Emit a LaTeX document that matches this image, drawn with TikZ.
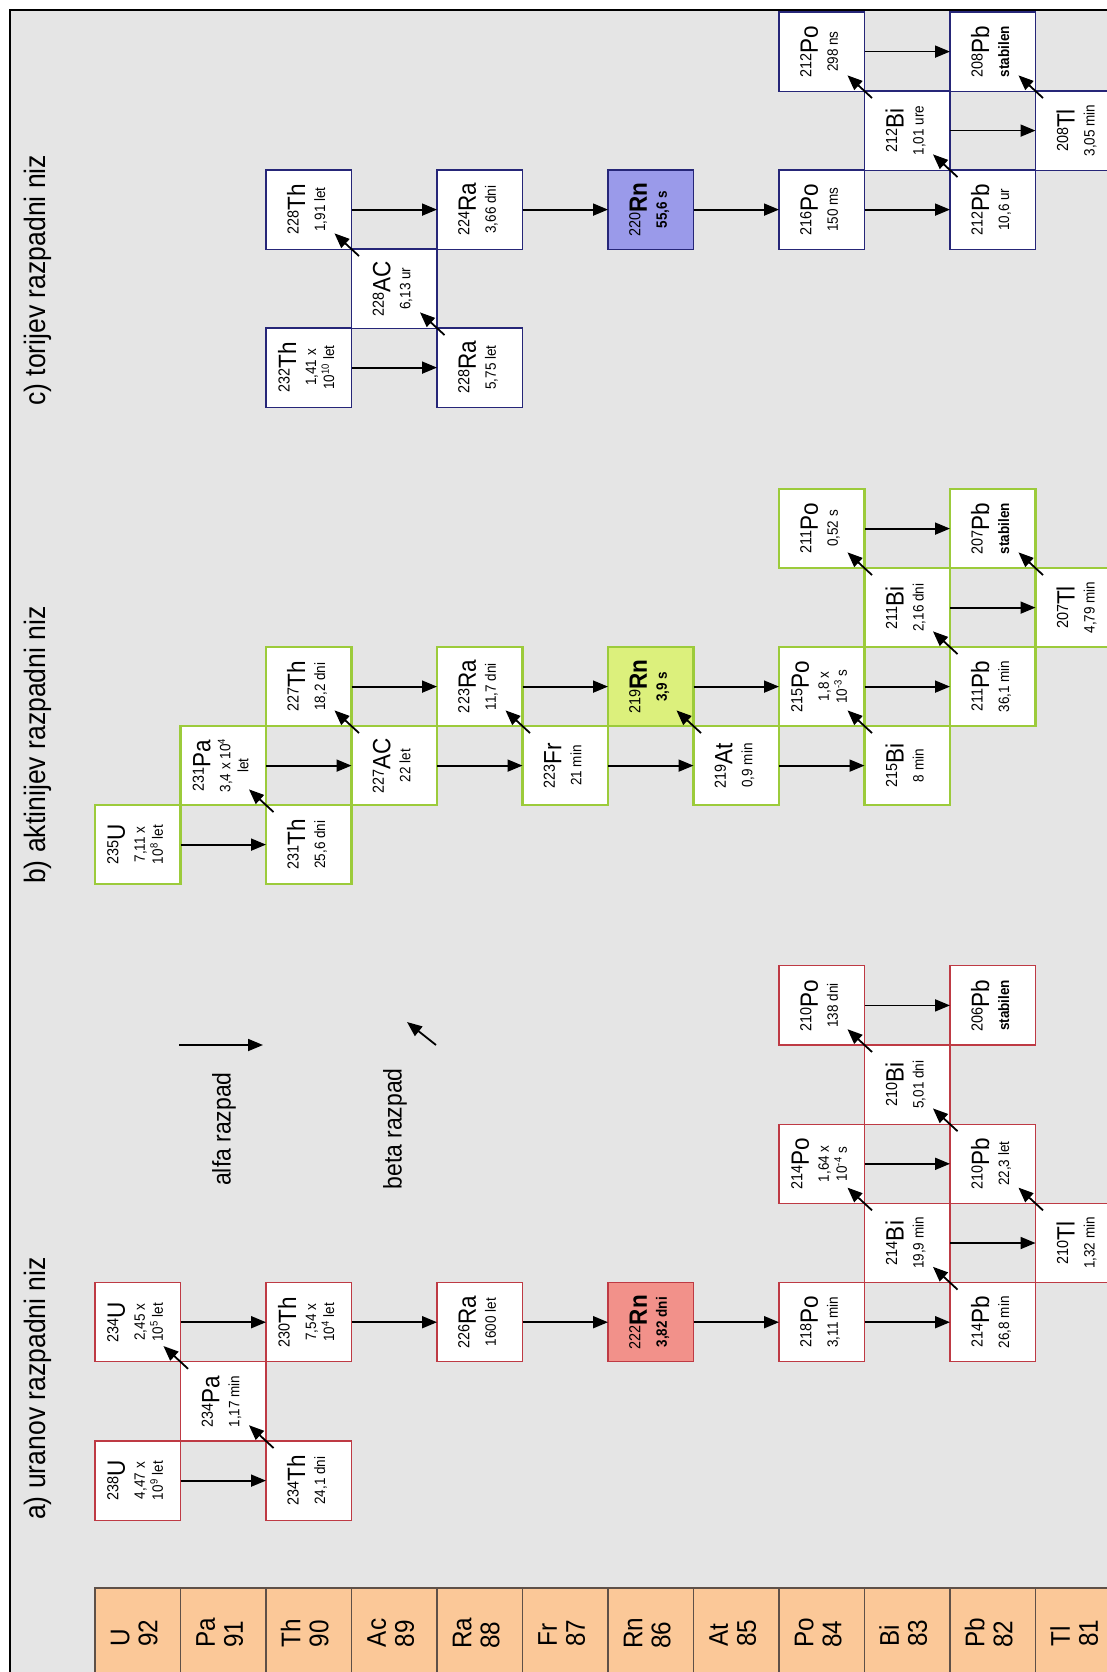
\documentclass[tikz,border=0pt]{standalone}
\usepackage{fontspec}
\setmainfont{Liberation Sans}[FakeStretch=0.9]
\usetikzlibrary{arrows.meta}
\definecolor{bgc}{HTML}{E5E5E5}
\definecolor{redc}{HTML}{BE3A44}
\definecolor{grnc}{HTML}{9CCB3B}
\definecolor{bluc}{HTML}{262678}
\definecolor{rnred}{HTML}{F2918A}
\definecolor{rngrn}{HTML}{DCF07C}
\definecolor{rnblu}{HTML}{9A9AEA}
\definecolor{orng}{HTML}{FBC898}
\definecolor{orngb}{HTML}{5E5048}
\newcommand{\Mass}[1]{\raisebox{6.4pt}{\fontsize{16}{16}\selectfont #1}}
\newcommand{\Sym}[1]{{\fontsize{25}{25}\selectfont #1}}
\newcommand{\Lab}[3]{\rotatebox{90}{\fontsize{15}{18}\selectfont\begin{tabular}{@{}c@{}}\Mass{#1}\Sym{#2}\\[2pt] #3\end{tabular}}}
\newcommand{\Nuc}[7]{\node[#1] (#2) at ({95+85.5*#3},{#4}) {\Lab{#5}{#6}{#7}};}
\newcommand{\Elem}[2]{\rotatebox{90}{\fontsize{27}{28}\selectfont\begin{tabular}{@{}l@{}}#1\\#2\end{tabular}}}
\tikzset{
 nbox/.style={draw, anchor=north west, minimum width=85.5pt, minimum height=79.2pt, inner sep=0pt, outer sep=0pt, fill=white, text=black},
 ra/.style={nbox, draw=redc, line width=1.3pt},
 gb/.style={nbox, draw=grnc, line width=2.4pt},
 bb/.style={nbox, draw=bluc, line width=1.3pt},
 ebox/.style={draw=orngb, fill=orng, line width=1.3pt, anchor=north west, minimum width=85.5pt, minimum height=90pt, inner sep=0pt, outer sep=0pt},
 alf/.style={-{Triangle[length=15pt,width=12pt]}, line width=1.8pt, black},
 bet/.style={-{Triangle[length=15pt,width=12pt]}, line width=1.8pt, black, shorten <=48pt, shorten >=35pt},
 title/.style={rotate=90, inner sep=0pt, font=\fontsize{29.5}{36}\selectfont},
 legend/.style={rotate=90, inner sep=0pt, font=\fontsize{25.5}{30}\selectfont},
}
\begin{document}
\begin{tikzpicture}[x=1pt,y=-1pt]
\useasboundingbox (0,0) rectangle (1107,1672);
\clip (0,0) rectangle (1107,1672);
\fill[white] (0,0) rectangle (1107,1672);
\fill[bgc] (10,10) rectangle (1130,1700);
\draw[line width=2pt] (10,1700) -- (10,10) -- (1130,10);

% titles
\node[title, anchor=west] (ta) at (38,1520) {a) uranov razpadni niz};
\node[title, anchor=west] (tb) at (38,884) {b) aktinijev razpadni niz};
\node[title, anchor=west] (tc) at (38,406) {c) torijev razpadni niz};

% legend
\coordinate (la1) at (179,1045);
\coordinate (la2) at (263,1045);
\draw[alf] (la1) -- (la2);
\node[legend, anchor=east] (lta) at (224,1072) {alfa razpad};
\coordinate (lb1) at (436,1045);
\coordinate (lb2) at (407,1022);
\draw[alf] (lb1) -- (lb2);
\node[legend, anchor=east] (ltb) at (395,1068) {beta razpad};

% element column
\node[ebox] (eU) at ({95+85.5*0},1588) {\Elem{U}{92}};
\node[ebox] (ePa) at ({95+85.5*1},1588) {\Elem{Pa}{91}};
\node[ebox] (eTh) at ({95+85.5*2},1588) {\Elem{Th}{90}};
\node[ebox] (eAc) at ({95+85.5*3},1588) {\Elem{Ac}{89}};
\node[ebox] (eRa) at ({95+85.5*4},1588) {\Elem{Ra}{88}};
\node[ebox] (eFr) at ({95+85.5*5},1588) {\Elem{Fr}{87}};
\node[ebox] (eRn) at ({95+85.5*6},1588) {\Elem{Rn}{86}};
\node[ebox] (eAt) at ({95+85.5*7},1588) {\Elem{At}{85}};
\node[ebox] (ePo) at ({95+85.5*8},1588) {\Elem{Po}{84}};
\node[ebox] (eBi) at ({95+85.5*9},1588) {\Elem{Bi}{83}};
\node[ebox] (ePb) at ({95+85.5*10},1588) {\Elem{Pb}{82}};
\node[ebox] (eTl) at ({95+85.5*11},1588) {\Elem{Tl}{81}};

% chain a (uranium)
\Nuc{ra}{aU238}{0}{1441}{238}{U}{4,47 x\\ 10\textsuperscript{9} let}
\Nuc{ra}{aTh234}{2}{1441}{234}{Th}{24,1 dni}
\Nuc{ra}{aPa234}{1}{1441-79.2}{234}{Pa}{1,17 min}
\Nuc{ra}{aU234}{0}{1441-2*79.2}{234}{U}{2,45 x\\ 10\textsuperscript{5} let}
\Nuc{ra}{aTh230}{2}{1441-2*79.2}{230}{Th}{7,54 x\\ 10\textsuperscript{4} let}
\Nuc{ra}{aRa226}{4}{1441-2*79.2}{226}{Ra}{1600 let}
\Nuc{ra,fill=rnred}{aRn222}{6}{1441-2*79.2}{222}{\bfseries Rn}{\textbf{3,82 dni}}
\Nuc{ra}{aPo218}{8}{1441-2*79.2}{218}{Po}{3,11 min}
\Nuc{ra}{aPb214}{10}{1441-2*79.2}{214}{Pb}{26,8 min}
\Nuc{ra}{aBi214}{9}{1441-3*79.2}{214}{Bi}{19,9 min}
\Nuc{ra}{aTl210}{11}{1441-3*79.2}{210}{Tl}{1,32 min}
\Nuc{ra}{aPo214}{8}{1441-4*79.2}{214}{Po}{1,64 x\\ 10\textsuperscript{-4} s}
\Nuc{ra}{aPb210}{10}{1441-4*79.2}{210}{Pb}{22,3 let}
\Nuc{ra}{aBi210}{9}{1441-5*79.2}{210}{Bi}{5,01 dni}
\Nuc{ra}{aPo210}{8}{1441-6*79.2}{210}{Po}{138 dni}
\Nuc{ra}{aPb206}{10}{1441-6*79.2}{206}{Pb}{\textbf{stabilen}}

\draw[alf] (aU238) -- (aTh234);
\draw[alf] (aU234) -- (aTh230);
\draw[alf] (aTh230) -- (aRa226);
\draw[alf] (aRa226) -- (aRn222);
\draw[alf] (aRn222) -- (aPo218);
\draw[alf] (aPo218) -- (aPb214);
\draw[alf] (aBi214) -- (aTl210);
\draw[alf] (aPo214) -- (aPb210);
\draw[alf] (aPo210) -- (aPb206);
\draw[bet] (aTh234.center) -- (aPa234.center);
\draw[bet] (aPa234.center) -- (aU234.center);
\draw[bet] (aPb214.center) -- (aBi214.center);
\draw[bet] (aBi214.center) -- (aPo214.center);
\draw[bet] (aTl210.center) -- (aPb210.center);
\draw[bet] (aPb210.center) -- (aBi210.center);
\draw[bet] (aBi210.center) -- (aPo210.center);

% chain b (actinium)
\Nuc{gb}{bU235}{0}{805}{235}{U}{7,11 x\\ 10\textsuperscript{8} let}
\Nuc{gb}{bTh231}{2}{805}{231}{Th}{25,6 dni}
\Nuc{gb}{bPa231}{1}{805-79}{231}{Pa}{3,4 x 10\textsuperscript{4}\\ let}
\Nuc{gb}{bAc227}{3}{805-79}{227}{AC}{22 let}
\Nuc{gb}{bTh227}{2}{805-2*79}{227}{Th}{18,2 dni}
\Nuc{gb}{bRa223}{4}{805-2*79}{223}{Ra}{11,7 dni}
\Nuc{gb}{bFr223}{5}{805-79}{223}{Fr}{21 min}
\Nuc{gb,fill=rngrn}{bRn219}{6}{805-2*79}{219}{\bfseries Rn}{\textbf{3,9 s}}
\Nuc{gb}{bAt219}{7}{805-79}{219}{At}{0,9 min}
\Nuc{gb}{bPo215}{8}{805-2*79}{215}{Po}{1,8 x\\ 10\textsuperscript{-3} s}
\Nuc{gb}{bBi215}{9}{805-79}{215}{Bi}{8 min}
\Nuc{gb}{bPb211}{10}{805-2*79}{211}{Pb}{36,1 min}
\Nuc{gb}{bBi211}{9}{805-3*79}{211}{Bi}{2,16 dni}
\Nuc{gb}{bTl207}{11}{805-3*79}{207}{Tl}{4,79 min}
\Nuc{gb}{bPo211}{8}{805-4*79}{211}{Po}{0,52 s}
\Nuc{gb}{bPb207}{10}{805-4*79}{207}{Pb}{\textbf{stabilen}}

\draw[alf] (bU235) -- (bTh231);
\draw[alf] (bPa231) -- (bAc227);
\draw[alf] (bTh227) -- (bRa223);
\draw[alf] (bAc227) -- (bFr223);
\draw[alf] (bRa223) -- (bRn219);
\draw[alf] (bFr223) -- (bAt219);
\draw[alf] (bRn219) -- (bPo215);
\draw[alf] (bAt219) -- (bBi215);
\draw[alf] (bPo215) -- (bPb211);
\draw[alf] (bBi211) -- (bTl207);
\draw[alf] (bPo211) -- (bPb207);
\draw[bet] (bTh231.center) -- (bPa231.center);
\draw[bet] (bAc227.center) -- (bTh227.center);
\draw[bet] (bFr223.center) -- (bRa223.center);
\draw[bet] (bAt219.center) -- (bRn219.center);
\draw[bet] (bBi215.center) -- (bPo215.center);
\draw[bet] (bPb211.center) -- (bBi211.center);
\draw[bet] (bBi211.center) -- (bPo211.center);
\draw[bet] (bTl207.center) -- (bPb207.center);

% chain c (thorium)
\Nuc{bb}{cTh232}{2}{328}{232}{Th}{1,41 x\\ 10\textsuperscript{10} let}
\Nuc{bb}{cRa228}{4}{328}{228}{Ra}{5,75 let}
\Nuc{bb}{cAc228}{3}{328-79}{228}{AC}{6,13 ur}
\Nuc{bb}{cTh228}{2}{328-2*79}{228}{Th}{1,91 let}
\Nuc{bb}{cRa224}{4}{328-2*79}{224}{Ra}{3,66 dni}
\Nuc{bb,fill=rnblu}{cRn220}{6}{328-2*79}{220}{\bfseries Rn}{\textbf{55,6 s}}
\Nuc{bb}{cPo216}{8}{328-2*79}{216}{Po}{150 ms}
\Nuc{bb}{cPb212}{10}{328-2*79}{212}{Pb}{10,6 ur}
\Nuc{bb}{cBi212}{9}{328-3*79}{212}{Bi}{1,01 ure}
\Nuc{bb}{cTl208}{11}{328-3*79}{208}{Tl}{3,05 min}
\Nuc{bb}{cPo212}{8}{328-4*79}{212}{Po}{298 ns}
\Nuc{bb}{cPb208}{10}{328-4*79}{208}{Pb}{\textbf{stabilen}}

\draw[alf] (cTh232) -- (cRa228);
\draw[alf] (cTh228) -- (cRa224);
\draw[alf] (cRa224) -- (cRn220);
\draw[alf] (cRn220) -- (cPo216);
\draw[alf] (cPo216) -- (cPb212);
\draw[alf] (cBi212) -- (cTl208);
\draw[alf] (cPo212) -- (cPb208);
\draw[bet] (cRa228.center) -- (cAc228.center);
\draw[bet] (cAc228.center) -- (cTh228.center);
\draw[bet] (cPb212.center) -- (cBi212.center);
\draw[bet] (cBi212.center) -- (cPo212.center);
\draw[bet] (cTl208.center) -- (cPb208.center);
\end{tikzpicture}
\end{document}
